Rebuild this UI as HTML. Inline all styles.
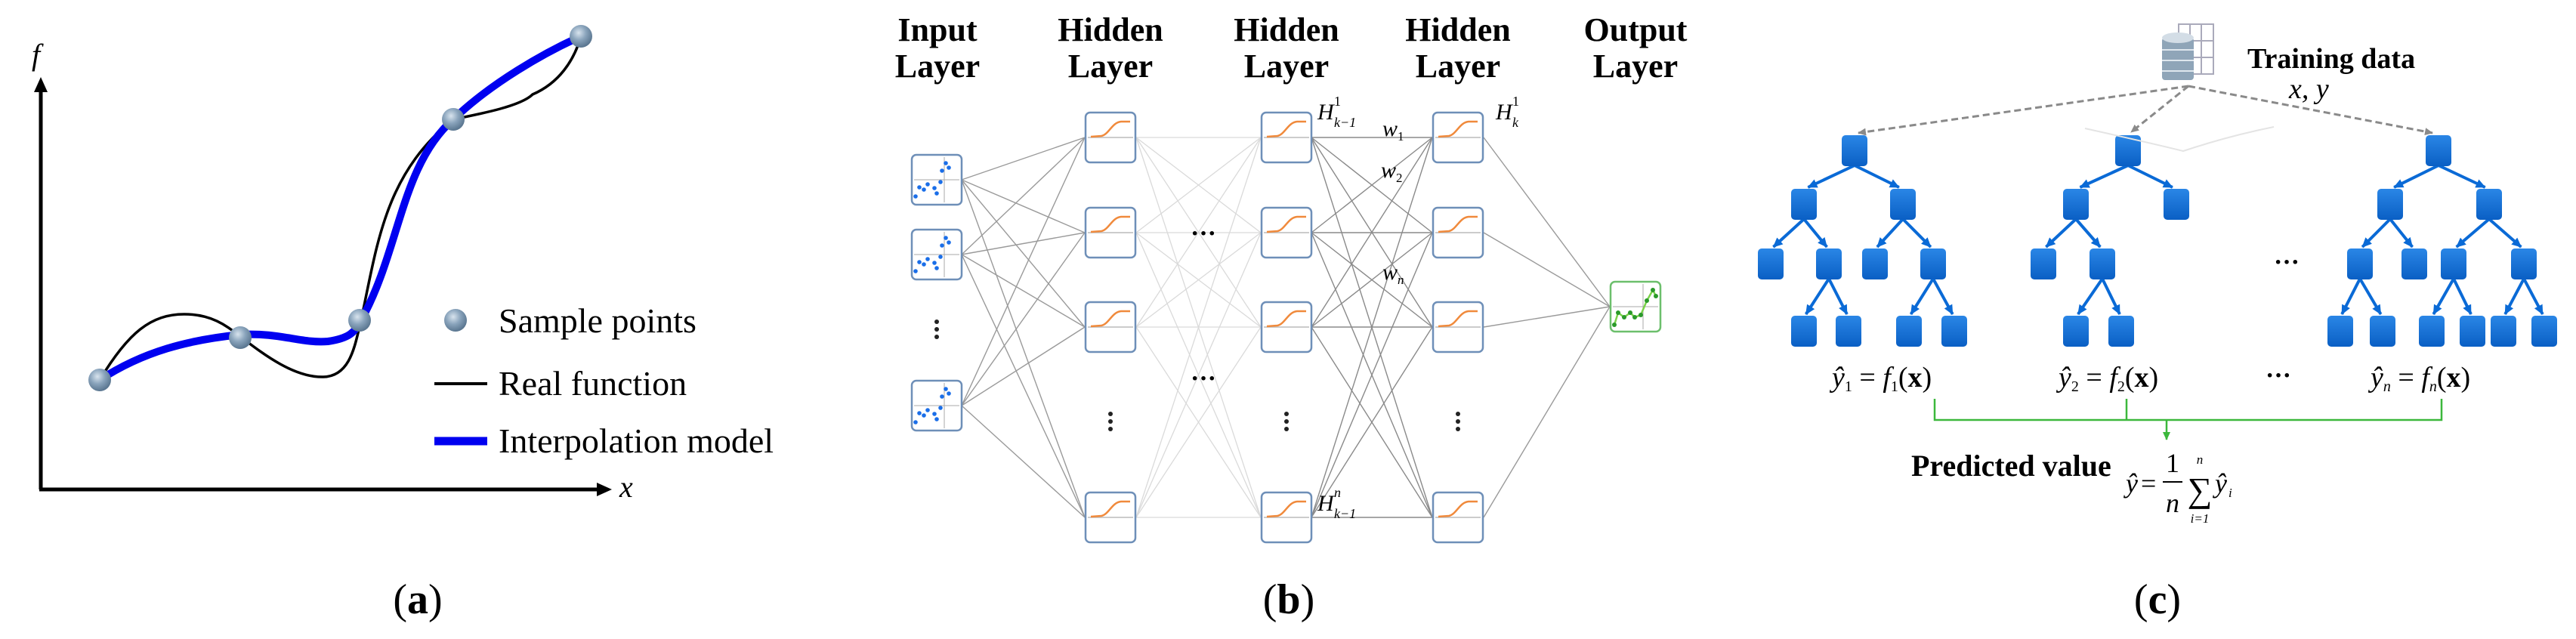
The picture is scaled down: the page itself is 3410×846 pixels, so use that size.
<!DOCTYPE html>
<html><head><meta charset="utf-8"><style>
html,body{margin:0;padding:0;background:#fff;width:3410px;height:846px;overflow:hidden}
svg{display:block}
text{font-family:"Liberation Serif",serif}
</style></head><body>
<svg id="s" width="3410" height="846" viewBox="0 0 3410 846" xmlns="http://www.w3.org/2000/svg">
<defs>
<radialGradient id="ball" cx="0.4" cy="0.35" r="0.65">
<stop offset="0" stop-color="#d8e4ee"/><stop offset="0.5" stop-color="#8aa4bc"/><stop offset="1" stop-color="#5a7690"/>
</radialGradient>
<linearGradient id="nb" x1="0" y1="0" x2="0" y2="1">
<stop offset="0" stop-color="#2a86e6"/><stop offset="1" stop-color="#0a5fc4"/>
</linearGradient>
<marker id="bh" markerWidth="14" markerHeight="14" refX="12" refY="7" orient="auto" markerUnits="userSpaceOnUse">
<path d="M0,1 L13,7 L0,13 z" fill="#0a6ad6"/></marker>
<marker id="gh" markerWidth="12" markerHeight="12" refX="10" refY="6" orient="auto" markerUnits="userSpaceOnUse">
<path d="M0,1 L11,6 L0,11 z" fill="#8a8a8a"/></marker>
<marker id="grh" markerWidth="12" markerHeight="12" refX="10" refY="6" orient="auto" markerUnits="userSpaceOnUse">
<path d="M0,1 L11,6 L0,11 z" fill="#3cb83c"/></marker>
</defs>

<!-- Panel a -->
<line x1="54" y1="648" x2="54" y2="118" stroke="#000" stroke-width="5"/>
<path d="M54,102 L45,122 L63,122 z" fill="#000"/>
<line x1="52" y1="648" x2="795" y2="648" stroke="#000" stroke-width="5"/>
<path d="M810,648 L790,639 L790,657 z" fill="#000"/>
<text x="42" y="86" font-size="40" font-style="italic">f</text>
<text x="820" y="658" font-size="40" font-style="italic">x</text>

<path d="M132,503 C170,440 200,416 244,416 C285,416 305,436 320,447 C350,470 390,500 428,499 C465,498 470,455 478,424 C500,320 510,230 600,158 C640,150 690,140 705,125 C740,110 760,80 769,48" fill="none" stroke="#000" stroke-width="3.5"/>
<path d="M132,503 C190,465 250,450 318,443 C370,440 400,455 434,452 C462,448 470,440 478,424 C530,330 530,220 600,158 C650,110 720,70 769,48" fill="none" stroke="#0000f0" stroke-width="10"/>
<g fill="url(#ball)">
<circle cx="132" cy="503" r="15"/><circle cx="318" cy="447" r="15"/><circle cx="476" cy="424" r="15"/><circle cx="600" cy="158" r="15"/><circle cx="769" cy="48" r="15"/>
<circle cx="603" cy="424" r="15"/>
</g>
<line x1="575" y1="508" x2="645" y2="508" stroke="#000" stroke-width="4"/>
<line x1="575" y1="584" x2="645" y2="584" stroke="#0000f0" stroke-width="11"/>
<text x="660" y="440" font-size="46">Sample points</text>
<text x="660" y="523" font-size="46">Real function</text>
<text x="660" y="599" font-size="46">Interpolation model</text>
<text x="553" y="812" font-size="56" text-anchor="middle">(<tspan font-weight="bold">a</tspan>)</text>

<!-- Panel b -->
<g font-size="44" font-weight="bold" text-anchor="middle">
<text x="1241" y="54">Input</text><text x="1241" y="102">Layer</text>
<text x="1470" y="54">Hidden</text><text x="1470" y="102">Layer</text>
<text x="1703" y="54">Hidden</text><text x="1703" y="102">Layer</text>
<text x="1930" y="54">Hidden</text><text x="1930" y="102">Layer</text>
<text x="2165" y="54">Output</text><text x="2165" y="102">Layer</text>
</g>
<g id="net"></g>
<g font-size="30" font-style="italic">
<text x="1744" y="158">H</text><text x="1766" y="140" font-size="18" font-style="normal">1</text><text x="1766" y="168" font-size="18">k−1</text>
<text x="1980" y="158">H</text><text x="2002" y="140" font-size="18" font-style="normal">1</text><text x="2002" y="168" font-size="18">k</text>
<text x="1744" y="676">H</text><text x="1766" y="658" font-size="18">n</text><text x="1766" y="686" font-size="18">k−1</text>
<text x="1830" y="180">w</text><text x="1850" y="186" font-size="17" font-style="normal">1</text>
<text x="1828" y="235">w</text><text x="1848" y="241" font-size="17" font-style="normal">2</text>
<text x="1830" y="370">w</text><text x="1850" y="376" font-size="17">n</text>
</g>
<g font-size="34" text-anchor="middle" font-weight="bold">
<text x="1593" y="320">···</text><text x="1593" y="512">···</text>
</g>
<text x="1706" y="812" font-size="56" text-anchor="middle">(<tspan font-weight="bold">b</tspan>)</text>

<!-- Panel c -->
<g id="trees"></g>
<g>
<rect x="2884" y="32" width="46" height="66" fill="#fff" stroke="#aab" stroke-width="2"/>
<line x1="2899" y1="32" x2="2899" y2="98" stroke="#aab" stroke-width="2"/><line x1="2914" y1="32" x2="2914" y2="98" stroke="#aab" stroke-width="2"/>
<line x1="2884" y1="54" x2="2930" y2="54" stroke="#aab" stroke-width="2"/><line x1="2884" y1="76" x2="2930" y2="76" stroke="#aab" stroke-width="2"/>
<rect x="2862" y="50" width="42" height="56" rx="4" fill="#8fa5b8"/>
<ellipse cx="2883" cy="50" rx="21" ry="7" fill="#d3dde6"/>
<line x1="2862" y1="66" x2="2904" y2="66" stroke="#dfe7ee" stroke-width="2"/>
<line x1="2862" y1="80" x2="2904" y2="80" stroke="#dfe7ee" stroke-width="2"/>
<line x1="2862" y1="94" x2="2904" y2="94" stroke="#dfe7ee" stroke-width="2"/>
</g>
<text x="2975" y="90" font-size="38" font-weight="bold">Training data</text>
<text x="3030" y="130" font-size="38" font-style="italic">x, y</text>
<path d="M2760,170 Q2850,190 2890,200 Q2950,180 3010,168" fill="none" stroke="#e4e4e4" stroke-width="2"/>
<g stroke="#8a8a8a" stroke-width="3" stroke-dasharray="9,5" fill="none">
<line x1="2897" y1="114" x2="2460" y2="176" marker-end="url(#gh)"/>
<line x1="2897" y1="114" x2="2821" y2="175" marker-end="url(#gh)"/>
<line x1="2897" y1="114" x2="3220" y2="176" marker-end="url(#gh)"/>
</g>
<g font-size="38" font-style="italic">
<text x="2425" y="512">ŷ<tspan font-size="20" font-style="normal" dy="6">1</tspan><tspan dy="-6" font-style="normal"> = </tspan>f<tspan font-size="20" font-style="normal" dy="6">1</tspan><tspan dy="-6" font-style="normal">(<tspan font-weight="bold">x</tspan>)</tspan></text>
<text x="2725" y="512">ŷ<tspan font-size="20" font-style="normal" dy="6">2</tspan><tspan dy="-6" font-style="normal"> = </tspan>f<tspan font-size="20" font-style="normal" dy="6">2</tspan><tspan dy="-6" font-style="normal">(<tspan font-weight="bold">x</tspan>)</tspan></text>
<text x="3138" y="512">ŷ<tspan font-size="20" dy="6">n</tspan><tspan dy="-6" font-style="normal"> = </tspan>f<tspan font-size="20" dy="6">n</tspan><tspan dy="-6" font-style="normal">(<tspan font-weight="bold">x</tspan>)</tspan></text>
</g>
<g font-size="34" font-weight="bold" text-anchor="middle"><text x="3016" y="508">···</text><text x="3027" y="358">···</text></g>
<g stroke="#3cb83c" stroke-width="2.5" fill="none">
<polyline points="2561,528 2561,556 3232,556 3232,528"/>
<line x1="2815" y1="528" x2="2815" y2="556"/>
<line x1="2868" y1="556" x2="2868" y2="582" marker-end="url(#grh)"/>
</g>
<text x="2530" y="630" font-size="40" font-weight="bold">Predicted value</text>
<g font-size="36" font-style="italic">
<text x="2814" y="652">ŷ</text><text x="2834" y="652" font-style="normal">=</text>
<text x="2876" y="625" font-style="normal" text-anchor="middle">1</text>
<line x1="2863" y1="638" x2="2889" y2="638" stroke="#000" stroke-width="2"/>
<text x="2876" y="678" text-anchor="middle">n</text>
<text x="2912" y="664" font-size="46" font-style="normal" text-anchor="middle">∑</text>
<text x="2912" y="614" font-size="17" text-anchor="middle">n</text>
<text x="2912" y="692" font-size="17" text-anchor="middle">i=1</text>
<text x="2932" y="652">ŷ</text><text x="2950" y="658" font-size="17">i</text>
</g>
<text x="2856" y="812" font-size="56" text-anchor="middle">(<tspan font-weight="bold">c</tspan>)</text>
</svg>
<script>
var NS="http://www.w3.org/2000/svg";
function el(p,t,a){var e=document.createElementNS(NS,t);for(var k in a)e.setAttribute(k,a[k]);p.appendChild(e);return e;}
var net=document.getElementById("net");
var inp=[238,337,537], hy=[182,308,433,685];
var cols=[1470,1703,1930];
function con(x1,ys1,x2,ys2,c,w){ys1.forEach(function(a){ys2.forEach(function(b){el(net,"line",{x1:x1,y1:a,x2:x2,y2:b,stroke:c,"stroke-width":w});});});}
con(1273,inp,1436,hy,"#9a9a9a",1.4);
con(1504,hy,1669,hy,"#dadada",1.3);
con(1736,hy,1896,hy,"#8a8a8a",1.4);
con(1964,hy,2131,[406],"#9a9a9a",1.4);
function box(cx,cy,stroke){el(net,"rect",{x:cx-33,y:cy-33,width:66,height:66,rx:6,fill:"#fff",stroke:stroke,"stroke-width":2.5});}
inp.forEach(function(y){box(1240,y,"#6e8fb8");
 el(net,"line",{x1:1210,y1:y,x2:1270,y2:y,stroke:"#aaa","stroke-width":1});
 el(net,"line",{x1:1250,y1:y-30,x2:1250,y2:y+30,stroke:"#aaa","stroke-width":1});
 [[-28,22],[-23,10],[-17,13],[-12,6],[-3,11],[0,18],[5,3],[7,-12],[12,-22],[16,-16]].forEach(function(p){el(net,"circle",{cx:1240+p[0],cy:y+p[1],r:2.8,fill:"#1a6ee8"});});
});
cols.forEach(function(cx){hy.forEach(function(y){box(cx,y,"#6e8fb8");
 el(net,"line",{x1:cx-30,y1:y,x2:cx+30,y2:y,stroke:"#bbb","stroke-width":1.5});
 el(net,"path",{d:"M"+(cx-26)+","+(y-1)+" L"+(cx-12)+","+(y-2)+" C"+(cx-2)+","+(y-4)+" "+(cx+2)+","+(y-20)+" "+(cx+14)+","+(y-21)+" L"+(cx+26)+","+(y-21),fill:"none",stroke:"#f08a3c","stroke-width":2.5});
});
 [-10,0,10].forEach(function(d){el(net,"circle",{cx:cx,cy:558+d,r:3,fill:"#222"});});
});
[0,10,20].forEach(function(d){el(net,"circle",{cx:1240,cy:426+d,r:3,fill:"#222"});});
box(2165,406,"#6cbf6c");
el(net,"line",{x1:2135,y1:406,x2:2195,y2:406,stroke:"#aaa","stroke-width":1});
el(net,"line",{x1:2175,y1:376,x2:2175,y2:436,stroke:"#aaa","stroke-width":1});
el(net,"polyline",{points:"2137,430 2142,414 2150,420 2158,414 2164,420 2172,417 2180,398 2188,384 2192,392",fill:"none",stroke:"#7ad24a","stroke-width":2.5});
[[2137,430],[2142,414],[2150,420],[2158,414],[2164,420],[2172,417],[2180,398],[2188,384],[2192,392]].forEach(function(p){el(net,"circle",{cx:p[0],cy:p[1],r:3,fill:"#2a9a2a"});});

var tr=document.getElementById("trees");
var L=[199,270,349,438];
function node(x,l){el(tr,"rect",{x:x-17,y:L[l]-20,width:34,height:41,rx:5,fill:"url(#nb)"});}
function edge(x1,l1,x2,l2){el(tr,"line",{x1:x1,y1:L[l1]+20,x2:x2+(x1-x2)*0.08,y2:L[l2]-22,stroke:"#0a6ad6","stroke-width":4,"marker-end":"url(#bh)"});}
function tree(t){t.forEach(function(n){if(n[2]!=null)edge(n[2][0],n[2][1],n[0],n[1]);});t.forEach(function(n){node(n[0],n[1]);});}
tree([[2455,0],[2388,1,[2455,0]],[2519,1,[2455,0]],[2344,2,[2388,1]],[2421,2,[2388,1]],[2482,2,[2519,1]],[2559,2,[2519,1]],
[2388,3,[2421,2]],[2447,3,[2421,2]],[2527,3,[2559,2]],[2587,3,[2559,2]]]);
tree([[2817,0],[2748,1,[2817,0]],[2881,1,[2817,0]],[2705,2,[2748,1]],[2783,2,[2748,1]],[2748,3,[2783,2]],[2808,3,[2783,2]]]);
tree([[3228,0],[3164,1,[3228,0]],[3295,1,[3228,0]],[3124,2,[3164,1]],[3196,2,[3164,1]],[3248,2,[3295,1]],[3341,2,[3295,1]],
[3098,3,[3124,2]],[3154,3,[3124,2]],[3219,3,[3248,2]],[3273,3,[3248,2]],[3314,3,[3341,2]],[3368,3,[3341,2]]]);
</script>
</body></html>
